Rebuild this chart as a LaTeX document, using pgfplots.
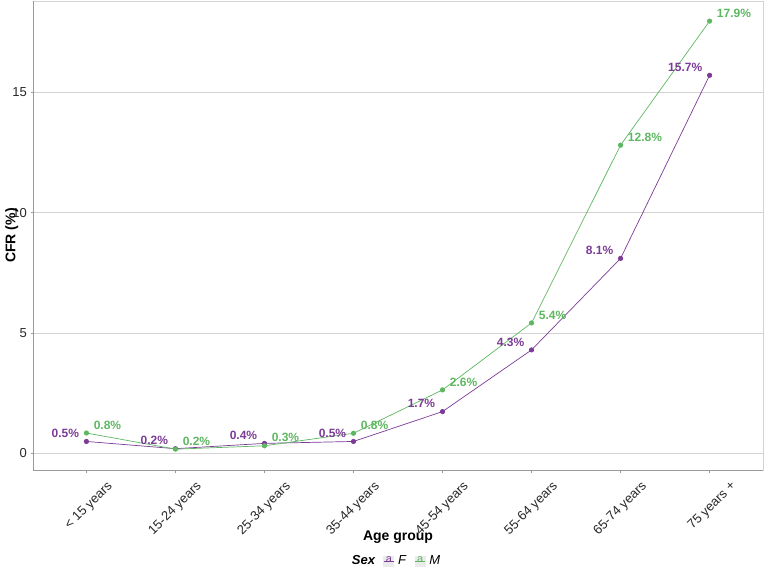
\documentclass[border=0pt]{standalone}
\usepackage{pgfplots}
\pgfplotsset{compat=1.18}
\usepackage{fontspec}
\setmainfont{Liberation Sans}
\definecolor{cF}{HTML}{7B3B96}
\definecolor{cM}{HTML}{5DB761}
\definecolor{gridc}{HTML}{D3D3D3}
\definecolor{axc}{HTML}{9A9A9A}
\begin{document}
\begin{tikzpicture}
\begin{axis}[name=ax, scale only axis, width=730pt, height=469pt,
 xmin=-0.6, xmax=7.6, ymin=-0.685, ymax=18.785,
 xtick={0,...,7},
 xticklabels={{< 15 years},{15-24 years},{25-34 years},{35-44 years},{45-54 years},{55-64 years},{65-74 years},{75 years +}},
 ytick={0,5,10,15},
 xtick pos=bottom, ytick pos=left,
 ymajorgrids, grid style={gridc, line width=0.6pt},
 axis line style={gridc, line width=0.8pt},
 tick align=outside, major tick length=2.5pt, tick style={axc, line width=0.6pt},
 /pgf/number format/assume math mode=true,
 ticklabel style={font=\fontsize{13}{13}\selectfont, text=black!85, inner sep=0pt},
 yticklabel style={anchor=east, xshift=-3.5pt},
 xticklabel style={xshift=20pt, yshift=-7.5pt, rotate=45, anchor=north east},
 xlabel={Age group}, ylabel={CFR (\%)},
 label style={font=\bfseries\fontsize{14}{14}\selectfont},
 xlabel style={at={(axis description cs:0.5,-0.143)}, anchor=center},
 ylabel style={at={(axis description cs:-0.029,0.5)}, anchor=center},
 legend style={at={(0.496,-0.194)}, anchor=center, draw=none, fill=none,
   legend columns=-1, font=\fontsize{13}{13}\selectfont,
   /tikz/every odd column/.append style={column sep=2pt},
   /tikz/every even column/.append style={column sep=6pt}},
 after end axis/.code={\draw[axc, line width=0.8pt] (rel axis cs:0,1) -- (rel axis cs:0,0) -- (rel axis cs:1,0);},
]
\addlegendimage{empty legend}
\addlegendentry{\textbf{\textit{Sex}}}
\addplot[cF, line width=0.7pt, mark=*, mark size=2.2pt, mark options={draw=none, fill=cF},
  nodes near coords={\pgfplotspointmeta\%}, point meta=explicit symbolic,
  every node near coord/.append style={font=\bfseries\fontsize{12}{12}\selectfont, text=cF, anchor=east, inner sep=0pt, xshift=-7pt, yshift=8pt},
  legend image code/.code={\fill[black!8] (0pt,-5pt) rectangle (10pt,5pt); \draw[cF, line width=0.7pt] (0pt,0pt) -- (10pt,0pt); \node[text=cF, inner sep=0pt, font=\fontsize{11}{11}\selectfont] at (5pt,0.5pt) {a};}]
 table[meta=lab] {
x y lab
0 0.50 0.5
1 0.20 0.2
2 0.42 0.4
3 0.50 0.5
4 1.74 1.7
5 4.30 4.3
6 8.10 8.1
7 15.70 15.7
};
\addlegendentry{\textit{F}}
\addplot[cM, line width=0.7pt, mark=*, mark size=2.2pt, mark options={draw=none, fill=cM},
  nodes near coords={\pgfplotspointmeta\%}, point meta=explicit symbolic,
  every node near coord/.append style={font=\bfseries\fontsize{12}{12}\selectfont, text=cM, anchor=west, inner sep=0pt, xshift=7pt, yshift=8pt},
  legend image code/.code={\fill[black!8] (0pt,-5pt) rectangle (10pt,5pt); \draw[cM, line width=0.7pt] (0pt,0pt) -- (10pt,0pt); \node[text=cM, inner sep=0pt, font=\fontsize{11}{11}\selectfont] at (5pt,0.5pt) {a};}]
 table[meta=lab] {
x y lab
0 0.85 0.8
1 0.18 0.2
2 0.32 0.3
3 0.84 0.8
4 2.64 2.6
5 5.42 5.4
6 12.80 12.8
7 17.95 17.9
};
\addlegendentry{\textit{M}}
\end{axis}
\pgfresetboundingbox
\path[use as bounding box] ([shift={(-33pt,-97pt)}]ax.south west) rectangle ([shift={(2pt,1pt)}]ax.north east);
\end{tikzpicture}
\end{document}
